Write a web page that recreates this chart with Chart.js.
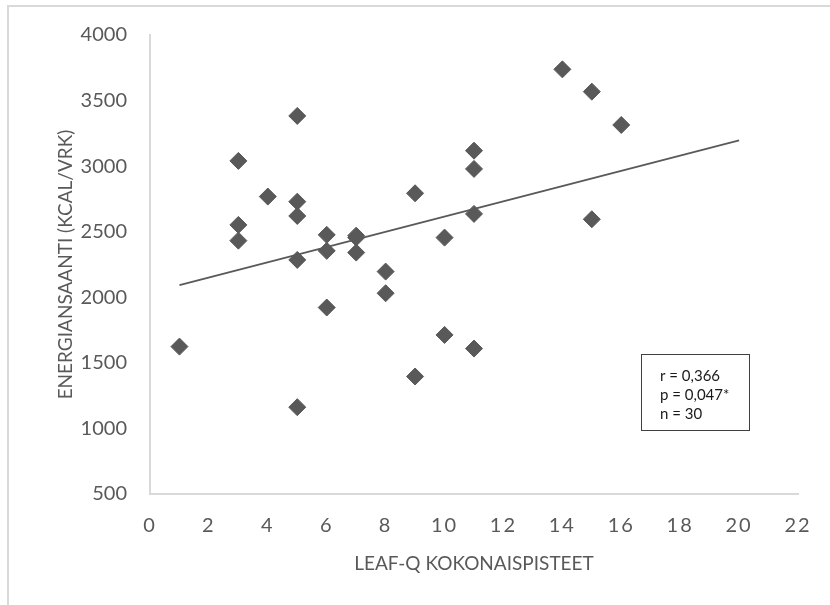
<!DOCTYPE html>
<html>
<head>
<meta charset="utf-8">
<script src="https://cdn.jsdelivr.net/npm/chart.js@4"></script>
<style>
  html, body { margin: 0; padding: 0; background: #ffffff; }
  #wrap { position: relative; width: 830px; height: 605px; }
  canvas { display: block; }
</style>
</head>
<body>
<div id="wrap"><canvas id="c" width="830" height="605"></canvas></div>
<script>
// ---- data ----
const leafqScores = [1, 3, 3, 3, 4, 5, 5, 5, 5, 5, 6, 6, 6, 7, 7, 7, 8, 8, 9, 9, 10, 10, 11, 11, 11, 11, 14, 15, 15, 16];
const energyKcal  = [1624, 3040, 2552, 2432, 2768, 3383, 2729, 2620, 2285, 1162, 2476, 2354, 1922, 2470, 2455, 2341, 2196, 2031, 2793, 1396, 2455, 1713, 3118, 2979, 2636, 1609, 3738, 3568, 2595, 3314];
const trendRange  = [1, 20];
const xTicks = [0, 2, 4, 6, 8, 10, 12, 14, 16, 18, 20, 22];
const yTicks = [500, 1000, 1500, 2000, 2500, 3000, 3500, 4000];
const statsLines = ['r = 0,366', 'p = 0,047*', 'n = 30'];
const xTitle = 'LEAF-Q KOKONAISPISTEET';
const yTitle = 'ENERGIANSAANTI (KCAL/VRK)';

// least-squares trend line computed from the data
const n = leafqScores.length;
const mx = leafqScores.reduce((a, b) => a + b, 0) / n;
const my = energyKcal.reduce((a, b) => a + b, 0) / n;
let sxy = 0, sxx = 0;
for (let i = 0; i < n; i++) {
  sxy += (leafqScores[i] - mx) * (energyKcal[i] - my);
  sxx += (leafqScores[i] - mx) ** 2;
}
const slope = sxy / sxx;
const intercept = my - slope * mx;
const trendPoints = trendRange.map(x => ({ x: x, y: intercept + slope * x }));
const scatterPoints = leafqScores.map((x, i) => ({ x: x, y: energyKcal[i] }));

const TEXT = '#595959';
const FONT = 'Lato, "Open Sans", sans-serif';

const framePlugin = {
  id: 'frame',
  beforeDraw(chart) {
    const ctx = chart.ctx;
    ctx.save();
    ctx.fillStyle = '#ffffff';
    ctx.fillRect(0, 0, chart.width, chart.height);
    ctx.strokeStyle = '#d9d9d9';
    ctx.lineWidth = 2;
    ctx.beginPath();
    ctx.moveTo(8, chart.height + 2);
    ctx.lineTo(8, 6);
    ctx.lineTo(chart.width + 2, 6);
    ctx.stroke();
    ctx.restore();
    // spaced digits on the x axis labels, as in the reference
    const xs = chart.scales.x;
    if (xs && !xs._spacedPatch) {
      const orig = xs.drawLabels;
      xs.drawLabels = function (area) {
        const c = this.ctx;
        c.save();
        c.letterSpacing = '2px';
        orig.call(this, area);
        c.restore();
      };
      xs._spacedPatch = true;
    }
  }
};

const statsPlugin = {
  id: 'stats',
  afterDraw(chart) {
    const ctx = chart.ctx;
    ctx.save();
    ctx.strokeStyle = '#404040';
    ctx.lineWidth = 1;
    ctx.strokeRect(641.5, 354.5, 108, 76);
    ctx.fillStyle = '#1a1a1a';
    ctx.font = '15px ' + FONT;
    ctx.textBaseline = 'middle';
    ctx.textAlign = 'left';
    statsLines.forEach((t, i) => ctx.fillText(t, 660, 376 + i * 19));
    ctx.restore();
  }
};

new Chart(document.getElementById('c'), {
  type: 'scatter',
  data: {
    datasets: [
      {
        label: 'data',
        data: scatterPoints,
        pointStyle: 'rectRot',
        pointRadius: 8.5,
        pointHoverRadius: 8.5,
        backgroundColor: '#595959',
        borderColor: '#595959',
        borderWidth: 1,
        order: 1
      },
      {
        label: 'trend',
        type: 'line',
        data: trendPoints,
        borderColor: '#595959',
        borderWidth: 1.75,
        pointRadius: 0,
        fill: false,
        order: 2
      }
    ]
  },
  options: {
    responsive: false,
    animation: false,
    events: [],
    layout: { padding: { left: 0, right: 32, top: 35, bottom: 0 } },
    plugins: { legend: { display: false }, tooltip: { enabled: false } },
    scales: {
      x: {
        type: 'linear',
        min: 0, max: 22,
        afterBuildTicks: s => { s.ticks = xTicks.map(v => ({ value: v })); },
        afterFit: s => { s.height = 111; },
        grid: { display: false, drawTicks: false },
        border: { display: true, color: '#d9d9d9', width: 2 },
        ticks: { color: TEXT, font: { family: FONT, size: 20 }, padding: 20, maxRotation: 0, autoSkip: false,
                 callback: v => String(v) },
        title: { display: true, text: xTitle, color: TEXT, font: { family: FONT, size: 19 }, padding: { top: 0, bottom: 30 } }
      },
      y: {
        type: 'linear',
        min: 500, max: 4000,
        afterBuildTicks: s => { s.ticks = yTicks.map(v => ({ value: v })); },
        afterFit: s => { s.width = 150; },
        grid: { display: false, drawTicks: false },
        border: { display: true, color: '#d9d9d9', width: 2 },
        ticks: { color: TEXT, font: { family: FONT, size: 20 }, padding: 23, autoSkip: false,
                 callback: v => String(v) },
        title: { display: true, text: yTitle, color: TEXT, font: { family: FONT, size: 19 }, padding: { top: 54, bottom: 0 } }
      }
    }
  },
  plugins: [framePlugin, statsPlugin]
});
</script>
</body>
</html>
